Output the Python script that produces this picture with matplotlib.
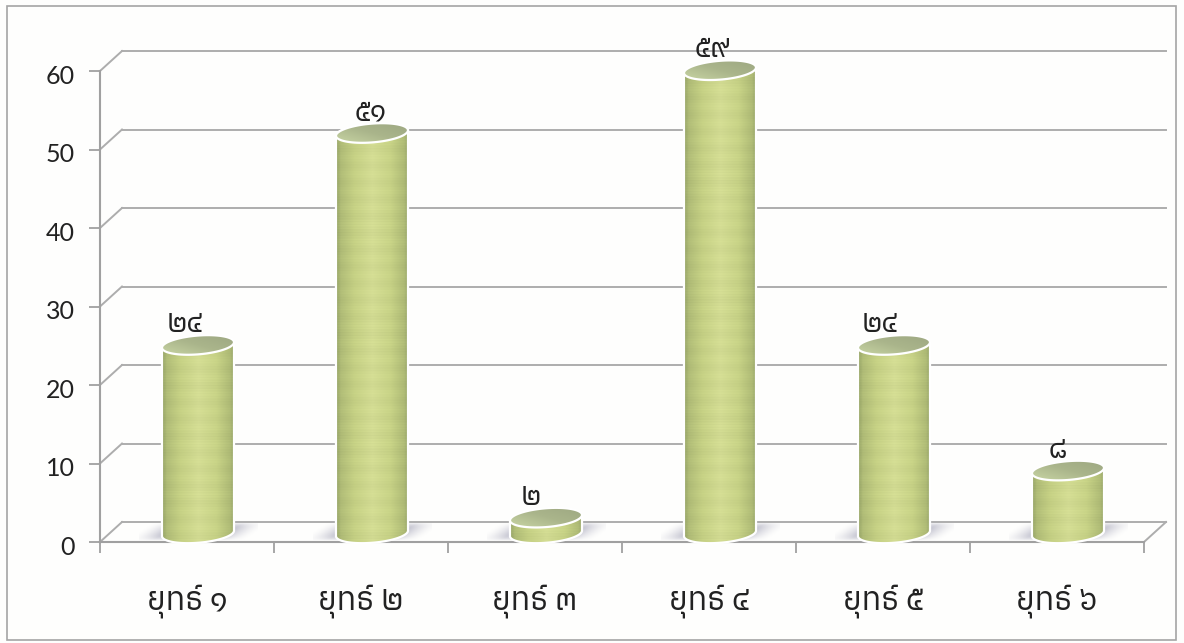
import numpy as np
import matplotlib
matplotlib.use("Agg")
import matplotlib.pyplot as plt
from matplotlib import font_manager as fm
from matplotlib.path import Path
from matplotlib.patches import PathPatch, Rectangle
from matplotlib.transforms import offset_copy, ScaledTranslation
from matplotlib.colors import LinearSegmentedColormap

categories = ["ยุทธ์ ๑", "ยุทธ์ ๒", "ยุทธ์ ๓", "ยุทธ์ ๔", "ยุทธ์ ๕", "ยุทธ์ ๖"]
values = [24, 51, 2, 59, 24, 8]
value_labels = ["๒๔", "๕๑", "๒", "๕๙", "๒๔", "๘"]
y_ticks = [0, 10, 20, 30, 40, 50, 60]
label_dx_px = [-2, 10, -4, 3, -3, 1]

thai = []
for f in fm.fontManager.ttflist:
    try:
        if 0x0E22 in fm.get_font(f.fname).get_charmap():
            thai.append(f.name)
    except Exception:
        pass
thai = sorted(set(thai))
thai_family = thai + ["DejaVu Sans"] if thai else ["DejaVu Sans"]

W, H = 1184, 643
fig = plt.figure(figsize=(W / 100, H / 100), dpi=100, facecolor="#fefefd")
ax = fig.add_axes([100 / W, 1 - 542 / H, 1044 / W, 471 / H])
ax.set_xlim(-0.5, 5.5)
ax.set_ylim(0, 60)
ax.patch.set_alpha(0)

GRID = "#adadad"
back = offset_copy(ax.transData, fig=fig, x=22 * 0.72, y=20 * 0.72, units="points")
for t in y_ticks:
    ax.plot([-0.5, 5.5], [t, t], transform=back, color=GRID, lw=1.4, clip_on=False, zorder=1)
    ax.plot([100 / W, 122 / W], [1 - (542 - t * 7.85) / H, 1 - (522 - t * 7.85) / H],
            transform=fig.transFigure, color=GRID, lw=1.4, clip_on=False, zorder=1)
ax.plot([1144 / W, 1166 / W], [1 - 542 / H, 1 - 522 / H], transform=fig.transFigure,
        color=GRID, lw=1.4, clip_on=False, zorder=1)

for s in ["top", "right"]:
    ax.spines[s].set_visible(False)
for s in ["left", "bottom"]:
    ax.spines[s].set_color("#a0a0a0")
    ax.spines[s].set_linewidth(1.5)
ax.spines["bottom"].set_zorder(2.5)
ax.set_yticks(y_ticks)
ax.set_xticks(np.arange(-0.5, 6, 1))
ax.set_xticklabels([])
ax.set_xticks(range(6), labels=categories, minor=True)
ax.tick_params(axis="x", which="major", length=8, width=1.3, color="#a0a0a0")
ax.tick_params(axis="x", which="minor", length=0, pad=30, labelsize=23, labelcolor="#222222")
ax.tick_params(axis="y", length=8, width=1.3, color="#a0a0a0", pad=10, labelsize=18, labelcolor="#222222")
down = ScaledTranslation(0, -2.2 / 72, fig.dpi_scale_trans)
for l in ax.get_yticklabels():
    l.set_family(["Lato", "DejaVu Sans"])
    l.set_transform(l.get_transform() + down)
for l in ax.get_xticklabels(minor=True):
    l.set_family(thai_family)

R = 0.207
SHIFT = 11 / 174
BASE = 1.1
HH = 1.2
TILT = 0.35

body_cmap = LinearSegmentedColormap.from_list("body", [
    (0.0, "#98a668"), (0.06, "#b0bc77"), (0.25, "#c5d084"), (0.5, "#d3dc93"),
    (0.75, "#c7d286"), (0.94, "#afbb76"), (1.0, "#98a66b")])
top_cmap = LinearSegmentedColormap.from_list("top", ["#cbd8a6", "#aab58b", "#9ca681"])

for i, v in enumerate(values):
    cx = i + SHIFT
    # soft floor shadow, reaching further left at the front and right at the back
    xs = np.linspace(-1, 1, 160)
    ys = np.linspace(-1, 1, 30)
    X, Y = np.meshgrid(xs, ys)
    a = np.clip((1 - np.abs(X - 0.22 * Y)) / 0.45, 0, 1) ** 1.6 * np.clip(1 - np.abs(Y) ** 3, 0, 1)
    rgba = np.zeros((30, 160, 4))
    rgba[..., :3] = (0.72, 0.72, 0.78)
    rgba[..., 3] = a * 0.8
    ax.imshow(rgba, extent=[cx - 0.34, cx + 0.34, 0.1, 2.5], aspect="auto", zorder=2,
              interpolation="bilinear", origin="lower")

    top = v + BASE
    t = np.linspace(0, 2 * np.pi, 80)
    xt, yt = cx + R * np.cos(t), top + HH * np.sin(t) + TILT * np.cos(t)
    tt = np.linspace(np.pi, 2 * np.pi, 50)
    lx = cx + R * np.cos(tt)
    ly = BASE + HH * np.sin(tt) + TILT * np.cos(tt)
    ux = lx[::-1]
    uy = top + HH * np.sin(tt[::-1] - np.pi) + TILT * np.cos(tt[::-1])
    verts = np.column_stack([np.r_[lx, ux], np.r_[ly, uy]])
    verts = np.vstack([verts, verts[0]])
    body = PathPatch(Path(verts, closed=True), facecolor="none", edgecolor="none", zorder=3)
    ax.add_patch(body)
    # horizontal gradient with faint scan bands
    rows = int(v * 7.85) + 36
    g = np.tile(np.linspace(0, 1, 72), (rows, 1))
    rgb = body_cmap(g)[..., :3]
    r = np.arange(rows)
    shade = 1 + 0.012 * np.sin(r * 2.3) + 0.012 * np.sin(r * 0.37)
    rgb = np.clip(rgb * shade[:, None, None], 0, 1)
    im = ax.imshow(rgb, extent=[cx - R, cx + R, BASE - 2, top + 2],
                   aspect="auto", zorder=3, interpolation="bilinear", origin="lower")
    im.set_clip_path(body)
    im.set_clip_box(fig.bbox)
    ax.add_patch(PathPatch(Path(verts, closed=True), facecolor="none", edgecolor="white",
                           lw=1.6, zorder=4, clip_on=False))
    # top ellipse, lighter toward the lower left
    tp = PathPatch(Path(np.column_stack([xt, yt]), closed=True), facecolor="none",
                   edgecolor="none", zorder=5, clip_on=False)
    ax.add_patch(tp)
    gx, gy = np.meshgrid(np.linspace(0, 1, 40), np.linspace(0, 1, 20))
    im2 = ax.imshow(0.45 * gx + 0.55 * gy, cmap=top_cmap, vmin=0, vmax=1,
                    extent=[cx - R, cx + R, top - 1.6, top + 1.6],
                    aspect="auto", zorder=5, interpolation="bilinear", origin="lower")
    im2.set_clip_path(tp)
    im2.set_clip_box(fig.bbox)
    ax.add_patch(PathPatch(Path(np.column_stack([xt, yt]), closed=True), facecolor="none",
                           edgecolor="white", lw=1.6, zorder=6, clip_on=False))
    ax.annotate(value_labels[i], (i, top), xytext=(label_dx_px[i] * 0.72, 21 * 0.72),
                textcoords="offset points", ha="center", va="center", fontsize=21,
                family=thai_family, color="#222222", zorder=7, annotation_clip=False)

ax.set_xlim(-0.5, 5.5)
ax.set_ylim(0, 60)

fig.add_artist(Rectangle((7 / W, 1 - 640 / H), 1169 / W, 634 / H, transform=fig.transFigure,
                         facecolor="none", edgecolor="#a5a5a5", lw=1.2))
fig.savefig("out.png", dpi=100, facecolor=fig.get_facecolor())
